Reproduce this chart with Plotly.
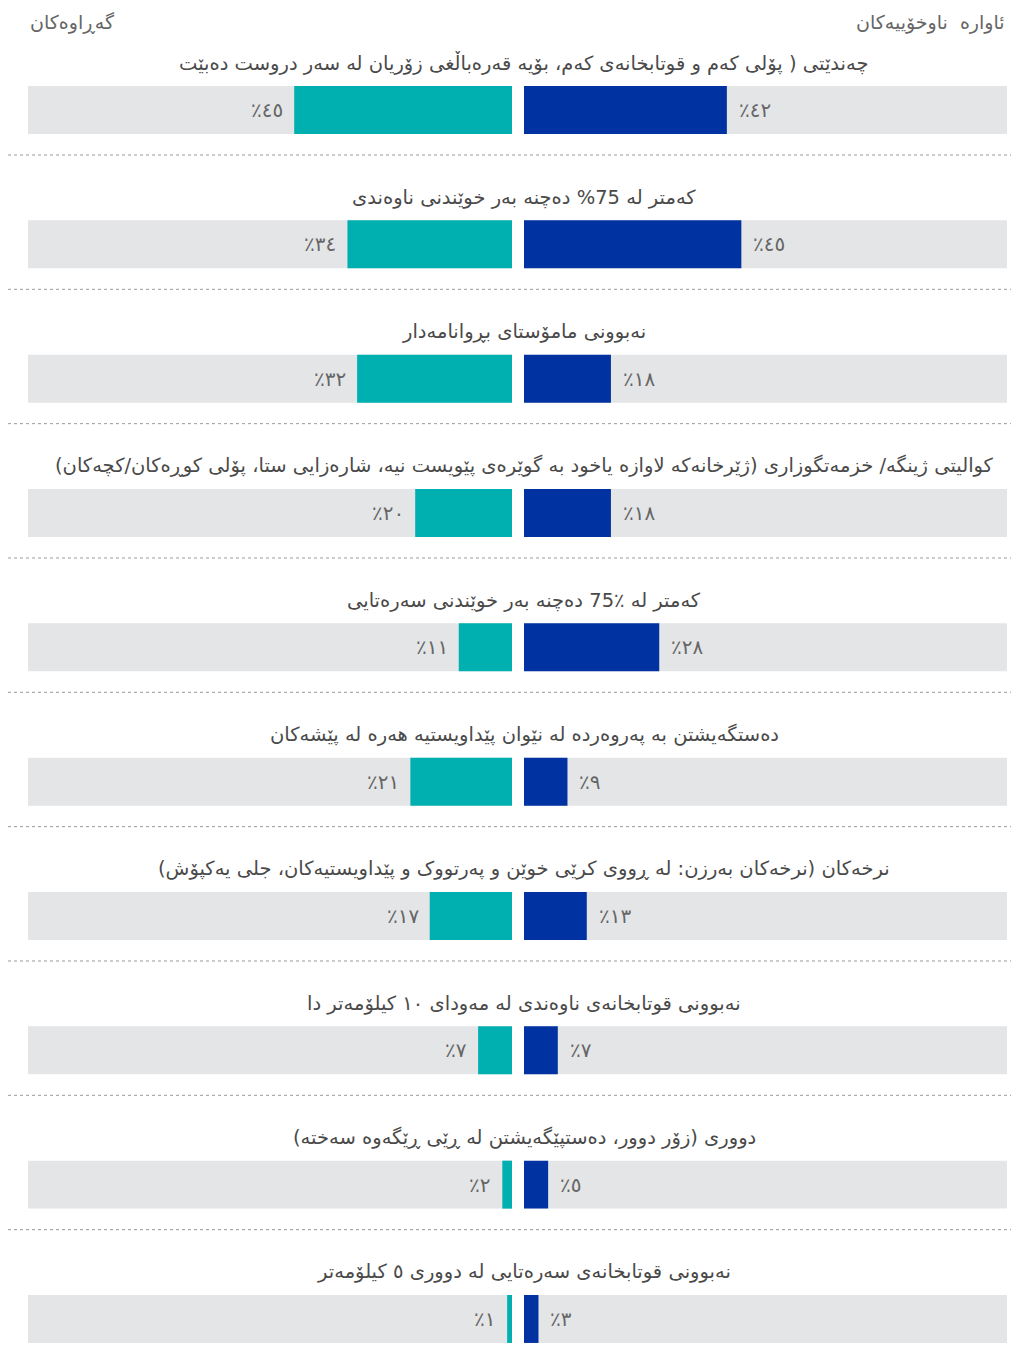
import plotly.graph_objects as go

# row titles, top to bottom
titles = [
    "چەندێتی ( پۆلی کەم و قوتابخانەی کەم، بۆیە قەرەباڵغی زۆریان لە سەر دروست دەبێت",
    "کەمتر لە 75% دەچنە بەر خوێندنی ناوەندی",
    "نەبوونی مامۆستای بڕوانامەدار",
    "کوالیتی ژینگە/ خزمەتگوزاری (ژێرخانەکە لاوازە یاخود بە گوێرەی پێویست نیە، شارەزایی ستا، پۆلی کوڕەکان/کچەکان)",
    "کەمتر لە ٪75 دەچنە بەر خوێندنی سەرەتایی",
    "دەستگەیشتن بە پەروەردە لە نێوان پێداویستیە هەرە لە پێشەکان",
    "نرخەکان (نرخەکان بەرزن: لە ڕووی کرێی خوێن و پەرتووک و پێداویستیەکان، جلی یەکپۆش)",
    "نەبوونی قوتابخانەی ناوەندی لە مەودای ١٠ کیلۆمەتر دا",
    "دووری (زۆر دوور، دەستپێگەیشتن لە ڕێی ڕێگەوە سەختە)",
    "نەبوونی قوتابخانەی سەرەتایی لە دووری ٥ کیلۆمەتر",
]
returnees = [45, 34, 32, 20, 11, 21, 17, 7, 2, 1]   # گەڕاوەکان (left, teal)
idps = [42, 45, 18, 18, 28, 9, 13, 7, 5, 3]         # ئاوارە ناوخۆییەکان (right, blue)
header_left = "گەڕاوەکان"
header_right = "ئاوارە  ناوخۆییەکان"

TEAL = "#00B0B1"
BLUE = "#0033A1"
GRAY = "#E4E5E7"
TXT = "#4a4a4a"
LBL = "#666666"
FONT = "DejaVu Sans"

OFF = 8  # page body margin
W, H = 1019 - 2 * OFF, 1358 - 2 * OFF
pitch = 134.33
first = 110 - OFF  # centre of first bar row

def px(x):
    return (x - OFF) / W

rows = list(range(len(titles)))
ar = str.maketrans("0123456789", "٠١٢٣٤٥٦٧٨٩")
def pct(v):
    return "٪" + str(v).translate(ar)
def rtl(s):
    return "\u200f" + s + "\u200f"

fig = go.Figure()
for ax in ["x", "x2"]:
    fig.add_trace(go.Bar(y=rows, x=[100] * len(rows), orientation="h", xaxis=ax, yaxis="y",
                         marker=dict(color=GRAY, line=dict(width=0)), width=0.357,
                         hoverinfo="skip", showlegend=False))
fig.add_trace(go.Bar(y=rows, x=returnees, orientation="h", xaxis="x", yaxis="y",
                     marker=dict(color=TEAL, line=dict(width=0)), width=0.357,
                     hoverinfo="skip", showlegend=False))
fig.add_trace(go.Bar(y=rows, x=idps, orientation="h", xaxis="x2", yaxis="y",
                     marker=dict(color=BLUE, line=dict(width=0)), width=0.357,
                     hoverinfo="skip", showlegend=False))

ann = []
shapes = []
for i in rows:
    ann.append(dict(text=rtl(titles[i]), x=px(524), xref="paper", y=i - 47 / pitch, yref="y",
                    xanchor="center", yanchor="middle", showarrow=False,
                    font=dict(family=FONT, size=19.5, color=TXT)))
    ann.append(dict(text=pct(returnees[i]), x=returnees[i], xref="x", y=i, yref="y",
                    xanchor="right", yanchor="middle", xshift=-9, showarrow=False,
                    font=dict(family=FONT, size=20, color=LBL)))
    ann.append(dict(text=pct(idps[i]), x=idps[i], xref="x2", y=i, yref="y",
                    xanchor="left", yanchor="middle", xshift=10, showarrow=False,
                    font=dict(family=FONT, size=20, color=LBL)))
    if i < len(rows) - 1:
        yy = i + 45 / pitch
        shapes.append(dict(type="line", xref="paper", yref="y", x0=0, x1=1.0, y0=yy, y1=yy,
                           line=dict(color="#9a9a9a", width=1, dash="dot")))

ann.append(dict(text=rtl(header_left), x=px(28), xref="paper", y=1 - (22 - OFF) / H, yref="paper",
                xanchor="left", yanchor="middle", showarrow=False,
                font=dict(family=FONT, size=19, color=LBL)))
ann.append(dict(text=rtl(header_right), x=px(1007), xref="paper", y=1 - (22 - OFF) / H, yref="paper",
                xanchor="right", yanchor="middle", showarrow=False,
                font=dict(family=FONT, size=19, color=LBL)))

fig.update_layout(
    width=W, height=H,
    margin=dict(l=0, r=0, t=0, b=0),
    paper_bgcolor="white", plot_bgcolor="white",
    barmode="overlay",
    xaxis=dict(domain=[px(28), px(512)], range=[100, 0], visible=False, fixedrange=True),
    xaxis2=dict(domain=[px(524), px(1007)], range=[0, 100], visible=False, fixedrange=True),
    yaxis=dict(range=[(H - first) / pitch, -first / pitch], visible=False, fixedrange=True),
    annotations=ann,
    shapes=shapes,
)

fig.write_html("out.html")
